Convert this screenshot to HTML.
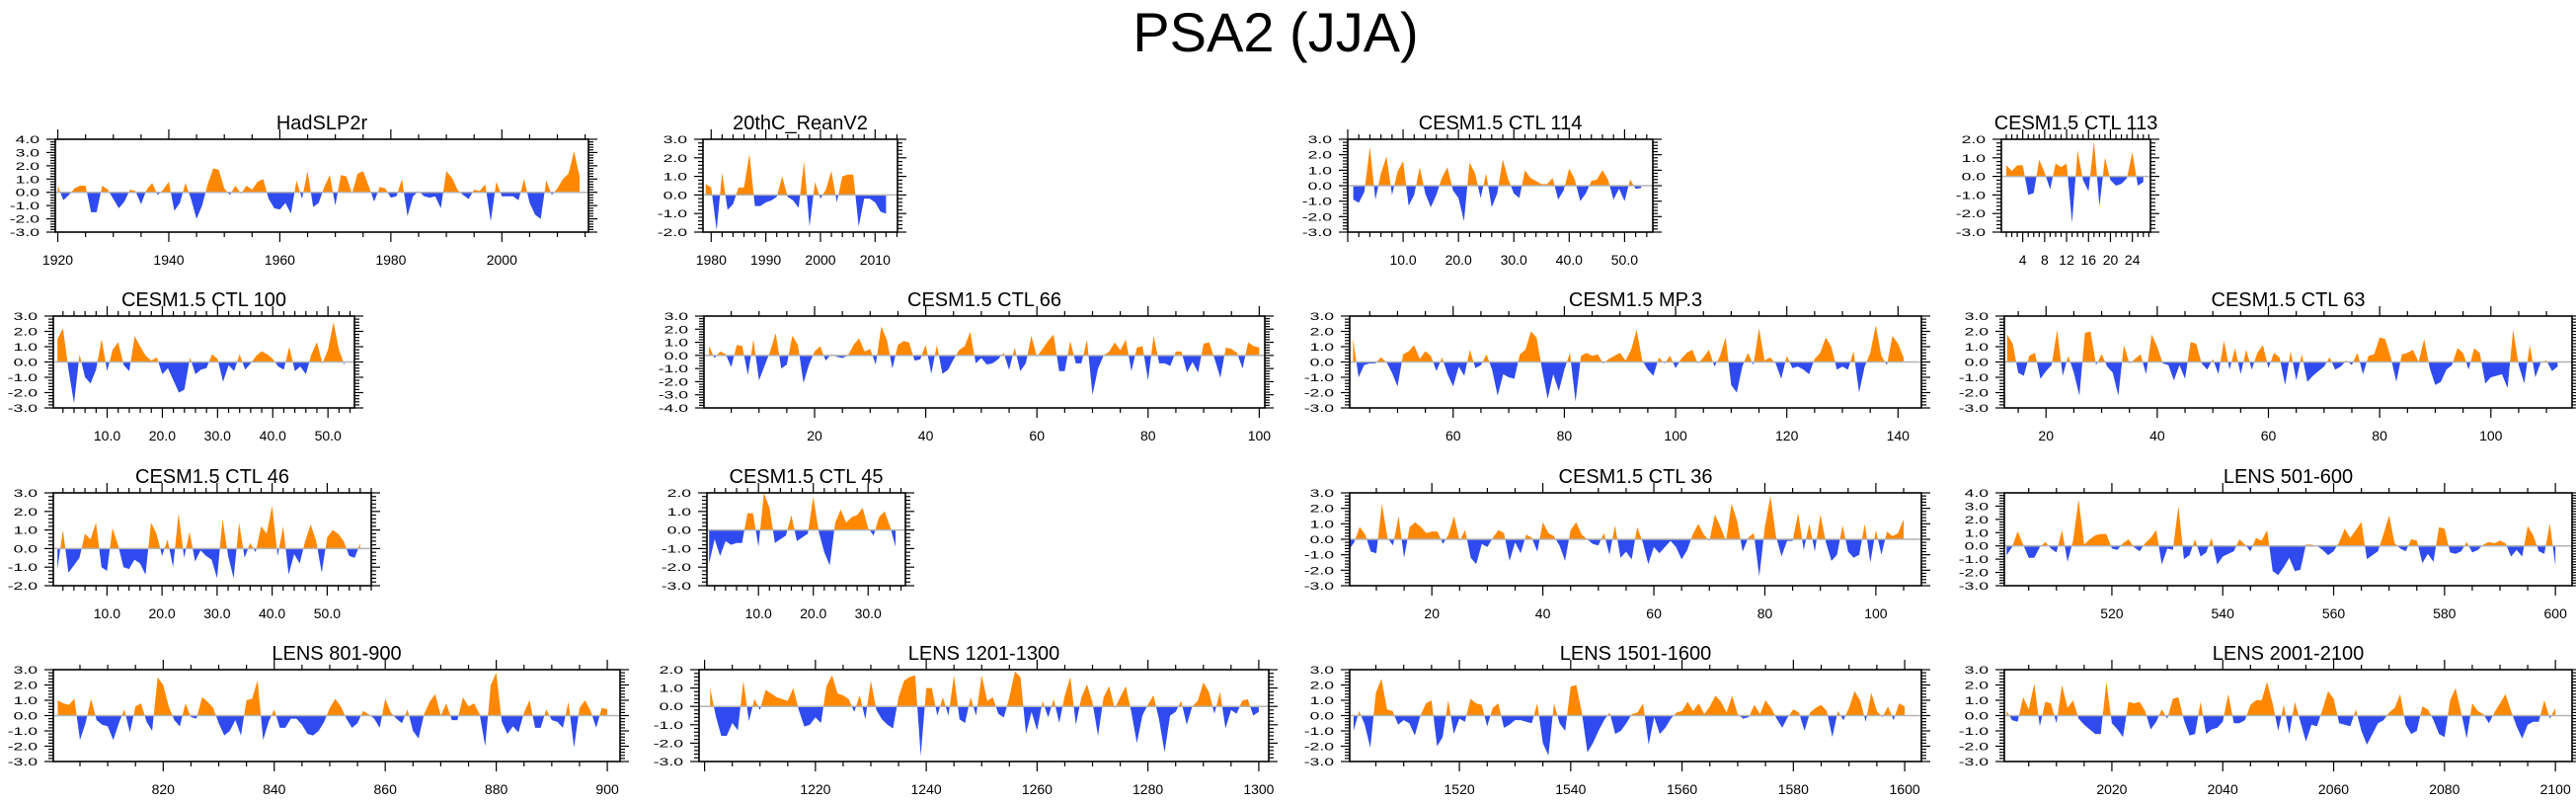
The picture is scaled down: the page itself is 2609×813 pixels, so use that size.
<!DOCTYPE html>
<html><head><meta charset="utf-8"><style>
html,body{margin:0;padding:0;background:#fff;}
svg{display:block;font-family:"Liberation Sans",sans-serif;}
</style></head><body>
<svg id="fig" width="2609" height="813" viewBox="0 0 2609 813" xmlns="http://www.w3.org/2000/svg">
<text x="1292" y="52" font-size="56" text-anchor="middle" fill="#000">PSA2 (JJA)</text>
</svg>
<script>
// ---- data ----
const hadslpStart = 1920;
const hadslpValues = [0.5,-0.6,-0.2,0.3,0.5,0.5,-1.5,-1.5,0.5,0.2,-0.5,-1.2,-0.7,0.2,0.1,-0.9,0.2,0.7,-0.2,0.2,0.8,-1.4,-0.8,0.7,-0.5,-2.0,-1.0,0.6,1.8,1.7,0.3,-0.2,0.5,-0.1,0.5,0.2,0.8,1.0,-0.5,-1.2,-1.3,-0.8,-1.6,0.9,-0.5,1.6,-1.1,-0.8,0.4,1.3,-1.0,1.3,1.2,-0.1,1.4,1.6,0.5,-0.7,0.4,0.3,-0.4,-0.3,1.0,-1.8,-0.3,0.1,-0.3,-0.4,-0.3,-1.2,1.6,1.1,0.2,-0.2,-0.5,0.2,0.1,0.6,-2.2,0.8,-0.3,-0.3,-0.3,-0.6,1.0,-0.8,-1.7,-2.0,0.9,-0.2,0.3,1.0,1.4,3.1,1.2];
const hadslpTicks = [1920,1940,1960,1980,2000];
const reanStart = 1979;
const reanValues = [0.6,0.4,-1.9,1.2,-0.8,-0.5,0.4,0.4,2.2,-0.6,-0.6,-0.4,-0.3,-0.1,1.0,-0.1,-0.3,-0.7,1.8,-1.7,0.7,-0.2,0.3,1.3,-0.4,1.0,1.1,1.1,-1.7,-0.2,-0.2,-0.4,-0.9,-1.0];
const reanTicks = [1980,1990,2000,2010];
const ctl114Start = 1;
const ctl114Values = [-0.9,-1.1,-0.4,2.5,-0.9,0.8,1.9,-0.6,0.9,1.6,-1.3,-0.6,1.2,-0.5,-1.4,-0.6,0.5,1.2,-0.3,-0.8,-2.3,1.5,0.8,-0.8,0.8,-1.4,-0.5,1.7,0.4,-0.5,-0.8,1.0,0.5,0.3,0.1,0.1,0.5,-0.9,-0.3,1.1,0.4,-1.0,-0.5,0.3,0.4,1.0,0.4,-0.9,-0.2,-1.0,0.4,-0.2,-0.15];
const ctl114Ticks = [10,20,30,40,50];
const ctl113Start = 1;
const ctl113Values = [0.6,0.3,0.6,0.6,-1.0,-0.9,0.9,0.2,-0.7,0.7,0.5,0.7,-2.5,1.4,-0.2,-0.8,1.9,-1.6,1.0,-0.2,-0.5,-0.4,-0.1,1.3,-0.5,-0.3];
const ctl113Ticks = [4,8,12,16,20,24];
const ctl100Start = 1;
const ctl100Values = [1.5,2.2,-0.5,-2.7,0.5,-1.0,-1.4,-0.5,1.5,-0.6,0.8,1.3,-0.2,-0.6,1.7,1.0,0.4,0.1,0.3,-0.8,-0.4,-1.2,-2.0,-1.8,0.3,-0.8,-0.5,-0.4,0.5,0.2,-1.3,-0.2,-0.6,0.5,-0.5,-0.1,0.4,0.7,0.5,0.2,-0.3,-0.5,1.0,-0.6,-0.3,-0.8,0.5,1.3,-0.1,0.8,2.6,0.8,-0.2];
const ctl100Ticks = [10,20,30,40,50];
const ctl66Start = 1;
const ctl66Values = [0.7,-0.2,0.3,0.1,-0.9,0.8,0.7,-1.5,1.2,-1.9,-0.8,0.3,1.7,-1.0,-0.7,1.5,0.8,-2.1,-0.7,0.3,0.7,-0.4,0.1,-0.1,-0.2,0.0,0.8,1.3,0.3,0.5,-0.7,2.2,1.2,-1.0,0.8,1.1,1.0,-0.4,-0.3,0.8,-1.4,0.8,-1.4,-1.1,-0.3,0.4,0.7,1.8,-0.6,-0.2,-0.7,-0.6,-0.3,0.2,-1.1,0.6,-1.2,-0.6,1.5,-0.1,0.5,1.1,1.6,-1.2,-1.2,1.1,-0.6,-0.6,1.2,-3.0,-1.0,0.0,0.3,1.0,0.4,1.2,-1.2,0.6,0.7,-1.9,1.5,-0.6,-0.6,-0.8,0.3,0.3,-1.3,-0.5,-1.3,0.9,1.0,-0.3,-1.7,0.6,0.5,0.2,-1.0,1.0,0.7,0.6];
const ctl66Ticks = [20,40,60,80,100];
const mp3Start = 42;
const mp3Values = [1.5,-1.0,-0.2,-0.1,-0.1,0.3,0.0,-0.7,-1.6,0.5,0.7,1.1,0.2,0.7,0.4,-0.6,0.3,-0.8,-1.6,-0.3,-0.9,0.8,-0.4,-0.2,0.5,-0.5,-2.2,-0.8,-1.0,-1.1,0.5,0.8,2.0,1.6,-0.5,-2.4,-0.8,-1.9,-0.5,0.6,-2.6,0.4,0.6,0.4,0.5,-0.1,0.2,0.4,0.6,0.1,0.8,2.1,0.1,-0.5,-0.9,0.3,-0.1,0.4,-0.4,0.2,0.6,0.8,-0.1,0.3,0.8,-0.3,0.4,1.6,-1.5,-2.0,-0.3,0.6,-0.2,2.2,0.1,0.3,-0.1,-1.1,0.4,-0.4,-0.3,-0.5,-0.8,0.2,0.6,1.6,1.0,-0.5,-0.3,-0.5,0.7,-2.0,-0.3,0.6,2.4,0.4,-0.2,1.7,1.2,0.3];
const mp3Ticks = [60,80,100,120,140];
const ctl63Start = 13;
const ctl63Values = [1.8,1.2,-0.7,-0.9,0.4,0.6,-1.1,-0.6,-0.2,2.1,-0.9,0.4,-0.7,-2.2,1.9,2.0,-0.2,0.5,-0.3,-0.7,-2.2,1.1,-0.1,0.2,0.5,-0.8,1.8,1.0,-0.1,-0.2,-1.2,-0.2,-1.1,1.3,1.2,-0.1,-0.5,0.2,-0.8,1.4,-0.5,0.9,-0.8,0.8,-0.5,0.6,1.1,-0.4,0.6,0.3,-1.5,0.7,-1.2,0.5,-1.3,-0.9,-0.6,-0.3,0.3,-0.5,-0.3,0.1,-0.2,0.6,-0.8,0.4,0.5,1.6,1.5,0.3,-1.3,0.5,0.6,0.8,0.0,1.5,-0.4,-1.5,-1.3,-0.5,-0.2,0.9,0.6,-0.5,0.9,0.6,-1.4,-1.0,-0.9,-0.8,-1.7,2.1,-0.2,-1.4,1.1,-1.0,0.0,0.1,-0.6,-0.3];
const ctl63Ticks = [20,40,60,80,100];
const ctl46Start = 1;
const ctl46Values = [-1.1,1.0,-1.3,-0.9,-0.5,0.8,0.5,1.4,-1.0,-1.2,1.1,0.2,-1.0,-1.1,-0.6,-0.8,-1.4,1.4,0.8,-0.4,0.5,-1.0,1.9,-0.5,0.9,-0.7,-0.1,-0.4,-0.6,-1.6,1.6,-0.4,-1.6,1.4,-0.5,0.3,-0.2,1.2,0.8,2.3,-0.4,1.2,-1.4,-0.3,-0.8,0.4,1.3,0.4,-1.3,0.6,1.0,0.8,0.4,-0.4,-0.5,0.3];
const ctl46Ticks = [10,20,30,40,50];
const ctl45Start = 1;
const ctl45Values = [-1.8,-0.5,-1.4,-0.6,-0.8,-0.7,-0.7,0.9,0.9,-0.9,2.0,1.2,-0.7,-0.5,-0.3,0.8,-0.6,-0.4,-0.2,1.8,-0.1,-1.2,-1.9,0.4,1.1,0.4,0.7,0.8,1.2,0.1,-0.3,0.7,1.0,0.2,-0.9];
const ctl45Ticks = [10,20,30];
const ctl36Start = 5;
const ctl36Values = [-0.7,-0.2,0.8,0.3,-0.8,-0.9,2.3,0.1,-0.4,1.5,-1.2,0.8,1.1,0.8,0.4,0.5,0.5,-0.3,0.3,1.5,-0.1,0.6,-1.2,-1.6,-0.3,-0.5,0.1,0.6,0.4,-1.4,-0.2,-0.9,0.3,0.1,-0.8,1.1,0.4,0.2,-0.4,-1.4,0.6,1.1,0.3,0.0,-0.3,-0.4,0.4,-1.0,0.9,-1.2,-0.8,-1.3,0.8,-0.2,-1.6,-0.5,-0.9,-0.5,-0.1,-0.5,-1.3,-0.7,0.3,1.0,0.3,-0.1,1.6,0.8,-0.1,2.3,1.2,-0.8,0.1,0.4,-2.4,0.8,2.8,0.2,-1.1,-0.1,-0.1,1.7,-0.7,1.0,-0.8,1.6,-0.2,-1.4,-1.0,0.9,-0.8,-1.2,-1.0,1.0,-1.5,0.6,-1.0,0.5,0.2,0.4,1.3];
const ctl36Ticks = [20,40,60,80,100];
const lens501Start = 501;
const lens501Values = [-0.7,-0.1,1.1,0.1,-0.9,-0.9,-0.1,0.3,-0.2,-0.5,1.2,-1.2,0.4,3.5,0.1,0.5,0.8,0.9,0.9,-0.2,-0.3,0.2,0.5,-0.1,-0.4,0.2,0.6,1.2,-1.4,-0.2,-0.3,3.0,-1.0,-0.7,0.5,-0.8,-0.5,0.6,-1.4,-0.8,-0.6,-0.4,0.5,0.1,-0.4,0.6,0.4,1.2,-1.9,-2.2,-1.6,-0.9,-1.9,-1.8,0.1,0.1,0.0,-0.3,-0.7,-0.4,0.3,1.3,0.6,1.2,1.8,-1.0,-0.7,-0.4,0.9,2.3,0.2,-0.2,-0.4,0.5,0.4,-1.3,-0.6,-1.2,1.4,1.3,-0.5,-0.6,-0.4,0.3,-0.5,-0.3,0.1,0.3,0.2,0.4,0.2,-0.8,-0.3,-0.8,1.5,0.8,-0.4,-0.6,1.7,-1.5];
const lens501Ticks = [520,540,560,580,600];
const lens801Start = 801;
const lens801Values = [1.0,0.8,0.7,1.1,-1.6,-0.5,1.1,-0.3,-0.6,-0.7,-1.6,-0.5,0.4,-1.1,0.6,0.8,-0.4,-1.0,2.5,2.0,0.6,-0.3,-0.7,0.8,-0.1,-0.2,1.2,0.9,0.5,-0.5,-1.3,-1.0,-0.3,-1.3,1.0,1.1,2.3,-1.6,-0.4,0.4,-0.8,-0.8,-0.2,-0.2,-0.6,-1.2,-1.3,-1.0,-0.4,0.5,1.1,0.6,-0.2,-0.8,-0.5,0.3,0.1,-0.2,-0.8,1.1,0.2,-0.2,-0.5,0.4,-1.0,-1.5,0.1,0.9,1.4,0.0,0.8,-0.3,-0.3,1.2,0.6,0.8,0.1,-2.0,2.0,2.8,-0.4,-1.2,-0.7,-1.1,0.2,1.0,-0.8,-0.8,0.4,-0.3,-0.4,-0.8,0.9,-2.1,0.5,1.0,0.3,-0.8,0.5,0.4];
const lens801Ticks = [820,840,860,880,900];
const lens1201Start = 1201;
const lens1201Values = [1.0,-0.5,-1.6,-1.6,-0.9,-1.3,1.4,-0.8,0.4,-0.2,0.9,0.7,0.5,0.4,0.3,1.0,-0.2,-1.1,-1.0,-0.6,-0.9,1.1,1.7,0.7,0.6,0.4,-0.3,0.6,-0.7,1.4,-0.2,-0.7,-1.0,-1.2,0.5,1.4,1.6,1.7,-2.7,1.0,1.0,-0.5,0.5,-0.5,1.7,-0.7,-0.9,0.5,-0.5,1.7,0.3,0.5,-0.4,-0.6,0.5,1.9,1.6,-1.5,-0.3,-1.3,0.3,-0.6,0.4,-0.9,0.6,1.6,-1.0,0.5,1.2,0.2,-1.6,0.5,1.1,-0.1,0.5,1.1,-0.3,-2.0,-0.5,0.1,0.6,-0.7,-2.5,-0.5,-0.3,0.3,-1.0,0.0,0.3,1.3,0.8,-0.4,0.8,-1.2,-0.2,-0.4,0.3,0.4,-0.5,-0.3];
const lens1201Ticks = [1220,1240,1260,1280,1300];
const lens1501Start = 1501;
const lens1501Values = [-1.0,0.3,-0.6,-2.1,1.5,2.4,0.4,0.3,-0.6,-0.3,-0.5,-1.3,0.0,0.8,1.0,-2.0,-1.4,1.0,-1.2,-0.2,-0.4,1.1,0.8,0.7,-0.7,0.5,0.8,-0.8,-0.6,-0.3,-0.3,-0.4,-0.5,0.8,-1.8,-2.6,0.8,-0.5,-1.0,1.9,2.0,0.2,-2.4,-1.8,-1.0,-0.3,0.2,-1.2,-1.0,-0.5,0.1,0.2,0.8,-1.9,-0.1,-1.2,-0.8,-0.2,0.2,0.3,0.9,0.3,0.8,0.1,0.6,1.3,0.9,0.2,1.3,0.1,-0.2,-0.1,0.7,0.1,1.0,0.5,-0.2,-0.8,-0.1,0.4,0.2,-1.0,0.2,0.5,0.7,0.3,-1.4,0.3,-0.3,0.5,1.6,1.0,-0.4,1.5,0.3,-0.1,0.6,-0.3,0.8,0.6];
const lens1501Ticks = [1520,1540,1560,1580,1600];
const lens2001Start = 2001;
const lens2001Values = [0.3,-0.3,-0.4,1.2,0.4,2.1,-0.7,0.9,0.8,-0.5,2.0,0.5,1.0,-0.2,-0.6,-0.9,-1.2,-1.2,2.2,-0.5,-0.9,-1.4,0.9,0.8,0.9,0.3,-0.9,-0.4,0.4,-0.2,1.1,1.2,-0.3,-1.3,-1.2,0.9,-1.2,-0.9,-0.8,-0.4,1.4,-0.5,-0.5,-0.3,0.7,1.0,1.0,2.2,0.8,-1.0,0.7,-1.2,0.9,-0.4,-1.7,-0.6,-0.7,0.4,1.6,1.1,-0.5,-0.6,-0.7,0.4,-1.0,-1.9,-1.2,-0.5,-0.3,0.2,0.5,1.4,-0.6,-1.2,-1.0,0.6,0.4,-0.3,-1.2,-1.4,1.0,1.8,0.2,-1.5,0.8,0.3,0.1,-0.5,0.2,0.8,1.4,0.3,-0.7,-1.5,-0.6,-0.4,-0.4,1.0,-0.2,0.5];
const lens2001Ticks = [2020,2040,2060,2080,2100];

// ---- panel layout (axes/boxes only) ----
const panels = [
 {id:'hadslp2r', title:'HadSLP2r', vals:hadslpValues, start:hadslpStart, ticks:hadslpTicks, dec:false, minor:5, box:[56,141,596,235], xr:[1919.55,2015.6], yr:[-3,4]},
 {id:'20thc-reanv2', title:'20thC_ReanV2', vals:reanValues, start:reanStart, ticks:reanTicks, dec:false, minor:2, box:[712,141,909,235], xr:[1978.5,2014.1], yr:[-2,3]},
 {id:'cesm-ctl-114', title:'CESM1.5 CTL 114', vals:ctl114Values, start:ctl114Start, ticks:ctl114Ticks, dec:true, minor:2, box:[1365,141,1674,235], xr:[0,55.1], yr:[-3,3]},
 {id:'cesm-ctl-113', title:'CESM1.5 CTL 113', vals:ctl113Values, start:ctl113Start, ticks:ctl113Ticks, dec:false, minor:1, box:[2027,141,2178,235], xr:[0.1,27.3], yr:[-3,2]},
 {id:'cesm-ctl-100', title:'CESM1.5 CTL 100', vals:ctl100Values, start:ctl100Start, ticks:ctl100Ticks, dec:true, minor:2, box:[54,320,359,413], xr:[0.25,54.8], yr:[-3,3]},
 {id:'cesm-ctl-66', title:'CESM1.5 CTL 66', vals:ctl66Values, start:ctl66Start, ticks:ctl66Ticks, dec:false, minor:5, box:[713,320,1281,413], xr:[0.1,101], yr:[-4,3]},
 {id:'cesm-mp3', title:'CESM1.5 MP.3', vals:mp3Values, start:mp3Start, ticks:mp3Ticks, dec:false, minor:5, box:[1367,320,1946,413], xr:[41.4,144.2], yr:[-3,3]},
 {id:'cesm-ctl-63', title:'CESM1.5 CTL 63', vals:ctl63Values, start:ctl63Start, ticks:ctl63Ticks, dec:false, minor:5, box:[2030,320,2605,413], xr:[12.5,114.6], yr:[-3,3]},
 {id:'cesm-ctl-46', title:'CESM1.5 CTL 46', vals:ctl46Values, start:ctl46Start, ticks:ctl46Ticks, dec:true, minor:2, box:[54,499,376,593], xr:[0.25,58], yr:[-2,3]},
 {id:'cesm-ctl-45', title:'CESM1.5 CTL 45', vals:ctl45Values, start:ctl45Start, ticks:ctl45Ticks, dec:true, minor:2, box:[716,499,917,593], xr:[0.6,36.8], yr:[-3,2]},
 {id:'cesm-ctl-36', title:'CESM1.5 CTL 36', vals:ctl36Values, start:ctl36Start, ticks:ctl36Ticks, dec:false, minor:5, box:[1367,499,1946,593], xr:[5.2,108.2], yr:[-3,3]},
 {id:'lens-501-600', title:'LENS 501-600', vals:lens501Values, start:lens501Start, ticks:lens501Ticks, dec:false, minor:5, box:[2030,499,2605,593], xr:[500.6,603], yr:[-3,4]},
 {id:'lens-801-900', title:'LENS 801-900', vals:lens801Values, start:lens801Start, ticks:lens801Ticks, dec:false, minor:5, box:[54,678,628,771], xr:[800.2,902.3], yr:[-3,3]},
 {id:'lens-1201-1300', title:'LENS 1201-1300', vals:lens1201Values, start:lens1201Start, ticks:lens1201Ticks, dec:false, minor:5, box:[708,678,1285,771], xr:[1199,1301.8], yr:[-3,2]},
 {id:'lens-1501-1600', title:'LENS 1501-1600', vals:lens1501Values, start:lens1501Start, ticks:lens1501Ticks, dec:false, minor:5, box:[1367,678,1946,771], xr:[1500.3,1603], yr:[-3,3]},
 {id:'lens-2001-2100', title:'LENS 2001-2100', vals:lens2001Values, start:lens2001Start, ticks:lens2001Ticks, dec:false, minor:5, box:[2030,678,2605,771], xr:[2000.6,2103], yr:[-3,3]}
];

const NS = 'http://www.w3.org/2000/svg';
const svg = document.getElementById('fig');
function mk(tag, attrs, parent){
  const e = document.createElementNS(NS, tag);
  for (const k in attrs) e.setAttribute(k, attrs[k]);
  parent.appendChild(e);
  return e;
}
const defs = mk('defs', {}, svg);

panels.forEach(function(p){
  const [l,t,r,b] = p.box;
  const xs = v => l + (v - p.xr[0]) / (p.xr[1] - p.xr[0]) * (r - l);
  const ys = v => b - (v - p.yr[0]) / (p.yr[1] - p.yr[0]) * (b - t);
  const g = mk('g', {}, svg);
  
  

  const y0 = ys(0);
  // clip paths
  const cpA = mk('clipPath', {id:'ca-' + p.id}, defs);
  mk('rect', {x:l, y:t, width:r-l, height:y0-t}, cpA);
  const cpB = mk('clipPath', {id:'cb-' + p.id}, defs);
  mk('rect', {x:l, y:y0, width:r-l, height:b-y0}, cpB);

  let pts = xs(p.start).toFixed(2) + ',' + y0.toFixed(2) + ' ';
  p.vals.forEach(function(v,i){ pts += xs(p.start + i).toFixed(2) + ',' + ys(v).toFixed(2) + ' '; });
  pts += xs(p.start + p.vals.length - 1).toFixed(2) + ',' + y0.toFixed(2);

  const pos = mk('polygon', {points:pts, fill:'#ff8800', 'clip-path':'url(#ca-' + p.id + ')'}, g);
  
  
  const neg = mk('polygon', {points:pts, fill:'#2f4bef', 'clip-path':'url(#cb-' + p.id + ')'}, g);
  
  

  const zl = mk('line', {x1:l, x2:r, y1:y0, y2:y0, stroke:'#b4b4b4', 'stroke-width':1.5}, g);
  
  

  // ticks
  const tk = mk('g', {stroke:'#000', 'stroke-width':1.2}, g);
  
  
  // y ticks
  for (let k = Math.round(p.yr[0]*5); k <= Math.round(p.yr[1]*5); k++){
    const v = k/5, yy = ys(v), major = (k % 5 === 0);
    const len = major ? 9 : 5;
    mk('line', {x1:l-len, x2:l, y1:yy, y2:yy}, tk);
    mk('line', {x1:r, x2:r+len, y1:yy, y2:yy}, tk);
  }
  // x ticks
  const mstart = Math.ceil(p.xr[0] / p.minor) * p.minor;
  const majStep = p.ticks.length > 1 ? p.ticks[1] - p.ticks[0] : 10;
  for (let v = mstart; v <= p.xr[1] + 1e-6; v += p.minor){
    const xx = xs(v);
    const major = Math.abs(Math.round(v / majStep) * majStep - v) < 1e-6;
    const len = major ? 10 : 5;
    mk('line', {x1:xx, x2:xx, y1:t-len, y2:t}, tk);
    mk('line', {x1:xx, x2:xx, y1:b, y2:b+len}, tk);
  }

  const box = mk('rect', {x:l, y:t, width:r-l, height:b-t, fill:'none', stroke:'#000', 'stroke-width':1.6}, g);
  
  

  // y labels
  for (let v = p.yr[0]; v <= p.yr[1]; v++){
    const tx = mk('text', {transform:'translate(' + (l-16) + ',' + (ys(v)+4).toFixed(1) + ') scale(1.6,1)', 'font-size':11, 'text-anchor':'end', fill:'#000'}, g);
    tx.textContent = v.toFixed(1);
    
    
  }
  // x labels
  p.ticks.forEach(function(v){
    const tx = mk('text', {x:xs(v).toFixed(1), y:b+33, 'font-size':14, 'text-anchor':'middle', fill:'#000'}, g);
    tx.textContent = p.dec ? v.toFixed(1) : String(v);
    
    
  });
  // title
  const ti = mk('text', {x:((l+r)/2).toFixed(1), y:t-10, 'font-size':20, 'text-anchor':'middle', fill:'#000'}, g);
  ti.textContent = p.title;
  
  
});
</script>
</body></html>
